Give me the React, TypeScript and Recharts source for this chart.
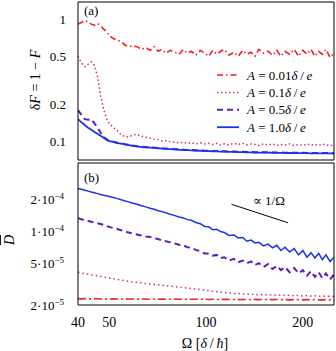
import React from 'react';
import { LineChart, Line, XAxis, YAxis, Legend, ReferenceLine } from 'recharts';

const FONT = '"Liberation Serif", "DejaVu Serif", serif';

// driving frequency grid, Ω in units of δ/ħ
const omega = [
  40, 41, 42, 43, 44, 45, 46, 47, 48, 49, 50, 51.5, 53, 54.5, 56, 57.5, 59, 61, 63, 65, 67, 69,
  71, 73, 75, 77.5, 80, 82.5, 85, 87.5, 90, 93, 96, 99, 102, 105, 108, 111, 114, 118, 122, 126,
  130, 134, 138, 142, 146, 151, 156, 161, 166, 171, 176, 182, 188, 194, 200, 206, 212, 218, 224,
  230, 236, 243, 250,
];

// (a) infidelity δF = 1 - F
const dfA001 = [
  0.92, 0.95, 0.985, 0.96, 0.92, 0.9, 0.93, 0.9, 0.84, 0.8, 0.74, 0.7, 0.68, 0.66, 0.62, 0.6, 0.61,
  0.6, 0.57, 0.59, 0.56, 0.6, 0.55, 0.57, 0.53, 0.56, 0.54, 0.52, 0.57, 0.53, 0.55, 0.51, 0.56, 0.53,
  0.5, 0.56, 0.52, 0.55, 0.57, 0.51, 0.54, 0.5, 0.56, 0.52, 0.54, 0.5, 0.57, 0.53, 0.55, 0.51, 0.56,
  0.5, 0.55, 0.52, 0.57, 0.5, 0.56, 0.52, 0.57, 0.5, 0.55, 0.52, 0.57, 0.49, 0.53,
];
const dfA01 = [
  0.5, 0.44, 0.41, 0.43, 0.45, 0.42, 0.34, 0.24, 0.185, 0.155, 0.14, 0.13, 0.122, 0.113, 0.109,
  0.108, 0.112, 0.114, 0.11, 0.108, 0.106, 0.104, 0.103, 0.1, 0.101, 0.099, 0.098, 0.097, 0.098,
  0.096, 0.097, 0.095, 0.097, 0.095, 0.096, 0.094, 0.096, 0.093, 0.095, 0.093, 0.096, 0.094, 0.096,
  0.093, 0.095, 0.094, 0.092, 0.095, 0.093, 0.095, 0.092, 0.094, 0.093, 0.095, 0.092, 0.094, 0.092,
  0.095, 0.093, 0.094, 0.092, 0.095, 0.093, 0.092, 0.093,
];
const dfA05 = [
  0.18, 0.165, 0.152, 0.15, 0.152, 0.14, 0.13, 0.118, 0.108, 0.104, 0.1005, 0.099, 0.097, 0.096,
  0.0945, 0.0935, 0.092, 0.091, 0.09, 0.0895, 0.089, 0.0885, 0.088, 0.0875, 0.087, 0.0865, 0.086,
  0.0855, 0.0852, 0.0848, 0.0845, 0.0842, 0.0839, 0.0836, 0.0833, 0.0831, 0.0829, 0.0827, 0.0825,
  0.0823, 0.0821, 0.0819, 0.0817, 0.0815, 0.0813, 0.0812, 0.0811, 0.081, 0.0809, 0.0808, 0.0807,
  0.0806, 0.0805, 0.0804, 0.0803, 0.0802, 0.0802, 0.0801, 0.08, 0.08, 0.0799, 0.0799, 0.0798,
  0.0798, 0.0797,
];
const dfA10 = [
  0.152, 0.143, 0.136, 0.129, 0.124, 0.119, 0.115, 0.111, 0.107, 0.103, 0.1, 0.0985, 0.0965,
  0.0955, 0.094, 0.093, 0.0915, 0.0905, 0.0895, 0.089, 0.0885, 0.088, 0.0875, 0.087, 0.0865, 0.086,
  0.0855, 0.085, 0.0847, 0.0843, 0.084, 0.0837, 0.0834, 0.0831, 0.0828, 0.0826, 0.0824, 0.0822,
  0.082, 0.0818, 0.0816, 0.0814, 0.0812, 0.081, 0.0808, 0.0807, 0.0806, 0.0805, 0.0804, 0.0803,
  0.0802, 0.0801, 0.08, 0.0799, 0.0798, 0.0797, 0.0797, 0.0796, 0.0795, 0.0795, 0.0794, 0.0794,
  0.0793, 0.0793, 0.0792,
];

// (b) mean deviation D̄
const dA001 = [
  2.3e-5, 2.29e-5, 2.3e-5, 2.29e-5, 2.29e-5, 2.3e-5, 2.29e-5, 2.28e-5, 2.29e-5, 2.29e-5, 2.28e-5,
  2.29e-5, 2.28e-5, 2.28e-5, 2.29e-5, 2.28e-5, 2.28e-5, 2.27e-5, 2.28e-5, 2.28e-5, 2.27e-5,
  2.28e-5, 2.27e-5, 2.28e-5, 2.27e-5, 2.27e-5, 2.28e-5, 2.27e-5, 2.27e-5, 2.26e-5, 2.27e-5,
  2.27e-5, 2.26e-5, 2.27e-5, 2.26e-5, 2.27e-5, 2.26e-5, 2.26e-5, 2.27e-5, 2.26e-5, 2.26e-5,
  2.25e-5, 2.26e-5, 2.26e-5, 2.25e-5, 2.26e-5, 2.25e-5, 2.26e-5, 2.25e-5, 2.25e-5, 2.26e-5,
  2.25e-5, 2.25e-5, 2.24e-5, 2.25e-5, 2.25e-5, 2.24e-5, 2.25e-5, 2.24e-5, 2.25e-5, 2.24e-5,
  2.24e-5, 2.25e-5, 2.24e-5, 2.24e-5,
];
const dA01 = [
  4.1e-5, 4.05e-5, 3.98e-5, 3.92e-5, 3.88e-5, 3.83e-5, 3.78e-5, 3.74e-5, 3.7e-5, 3.65e-5, 3.62e-5,
  3.56e-5, 3.5e-5, 3.45e-5, 3.4e-5, 3.36e-5, 3.32e-5, 3.28e-5, 3.24e-5, 3.2e-5, 3.17e-5, 3.14e-5,
  3.11e-5, 3.08e-5, 3.05e-5, 3.02e-5, 2.99e-5, 2.96e-5, 2.93e-5, 2.9e-5, 2.87e-5, 2.84e-5, 2.8e-5,
  2.76e-5, 2.74e-5, 2.7e-5, 2.68e-5, 2.64e-5, 2.63e-5, 2.6e-5, 2.58e-5, 2.57e-5, 2.54e-5, 2.55e-5,
  2.52e-5, 2.53e-5, 2.5e-5, 2.52e-5, 2.49e-5, 2.5e-5, 2.47e-5, 2.49e-5, 2.46e-5, 2.48e-5, 2.45e-5,
  2.47e-5, 2.44e-5, 2.46e-5, 2.43e-5, 2.45e-5, 2.42e-5, 2.44e-5, 2.42e-5, 2.43e-5, 2.41e-5,
];
const dA05 = [
  1.34e-4, 1.31e-4, 1.28e-4, 1.26e-4, 1.24e-4, 1.22e-4, 1.2e-4, 1.18e-4, 1.16e-4, 1.13e-4, 1.11e-4,
  1.08e-4, 1.06e-4, 1.03e-4, 1.0e-4, 9.8e-5, 9.6e-5, 9.4e-5, 9.2e-5, 9.0e-5, 8.9e-5, 8.6e-5, 8.5e-5,
  8.2e-5, 8.1e-5, 7.9e-5, 7.7e-5, 7.5e-5, 7.4e-5, 7.1e-5, 7.0e-5, 6.7e-5, 6.5e-5, 6.2e-5, 6.2e-5,
  5.9e-5, 6.0e-5, 5.6e-5, 5.7e-5, 5.3e-5, 5.5e-5, 5.1e-5, 5.3e-5, 5.0e-5, 5.2e-5, 4.8e-5, 5.0e-5,
  4.6e-5, 4.9e-5, 4.4e-5, 4.7e-5, 4.3e-5, 4.6e-5, 4.1e-5, 4.5e-5, 4.0e-5, 4.3e-5, 3.8e-5, 4.2e-5,
  3.7e-5, 4.1e-5, 3.6e-5, 4.0e-5, 3.5e-5, 3.9e-5,
];
const dA10 = [
  2.58e-4, 2.53e-4, 2.48e-4, 2.43e-4, 2.38e-4, 2.34e-4, 2.3e-4, 2.26e-4, 2.22e-4, 2.19e-4, 2.16e-4,
  2.11e-4, 2.06e-4, 2.01e-4, 1.96e-4, 1.92e-4, 1.87e-4, 1.82e-4, 1.76e-4, 1.72e-4, 1.67e-4,
  1.63e-4, 1.58e-4, 1.55e-4, 1.51e-4, 1.46e-4, 1.42e-4, 1.38e-4, 1.35e-4, 1.3e-4, 1.28e-4, 1.22e-4,
  1.19e-4, 1.12e-4, 1.11e-4, 1.04e-4, 1.05e-4, 1.0e-4, 9.8e-5, 9.2e-5, 9.3e-5, 8.7e-5, 8.8e-5,
  8.1e-5, 8.3e-5, 7.8e-5, 7.9e-5, 7.3e-5, 7.6e-5, 7.0e-5, 7.4e-5, 6.6e-5, 7.1e-5, 6.4e-5, 6.9e-5,
  6.0e-5, 6.6e-5, 5.7e-5, 6.3e-5, 5.6e-5, 6.2e-5, 5.4e-5, 6.0e-5, 5.2e-5, 5.7e-5,
];

// ∝ 1/Ω guide segment (Ω, D̄)
const slopeGuide = [
  { x: 120, y: 1.82e-4 },
  { x: 180, y: 1.213e-4 },
];

const xLabelTicks = [40, 50, 100, 200];
const xMajorTicks = [100, 200];
const xAllTicks = [50, 60, 70, 80, 90, 100, 200];
const yTicksA = [0.1, 0.2, 0.5, 1];
const yMajorA = [0.1, 1];
const yAllA = [0.08, 0.09, 0.1, 0.2, 0.3, 0.4, 0.5, 0.6, 0.7, 0.8, 0.9, 1];
const yTicksB = [2e-5, 5e-5, 1e-4, 2e-4];
const yMajorB = [1e-4];
const yAllB = [3e-5, 4e-5, 5e-5, 6e-5, 7e-5, 8e-5, 9e-5, 1e-4, 2e-4, 3e-4, 4e-4];

const X_DOMAIN = [40, 250];
const Y_DOMAIN_A = [0.07, 1.4];
const Y_DOMAIN_B = [2e-5, 4.5e-4];

const series = [
  { key: 'a001', amp: '0.01', color: '#f2201e', dashA: '6 3 1.5 3', dashB: '8 3 2 3', width: 1.6 },
  { key: 'a01', amp: '0.1', color: '#d0307c', dashA: '1.5 2.5', dashB: '1.5 3', width: 1.5 },
  { key: 'a05', amp: '0.5', color: '#5a1fc2', dashA: '6 4', dashB: '6 4', width: 2 },
  { key: 'a10', amp: '1.0', color: '#1b33f0', dashA: undefined, dashB: undefined, width: 1.8 },
];

const tableA = omega.map((w, i) => ({ omega: w, a001: dfA001[i], a01: dfA01[i], a05: dfA05[i], a10: dfA10[i] }));
const tableB = omega.map((w, i) => ({ omega: w, a001: dA001[i], a01: dA01[i], a05: dA05[i], a10: dA10[i] }));

const tickText = { fill: '#000', fontSize: 13, fontFamily: FONT };

// inward ticks on all four sides; mirrored axes take no room in the layout
const frameAxes = (yDomain: number[], yMajor: number[], yAll: number[]) => {
  const xCommon = { type: 'number' as const, dataKey: 'omega', scale: 'log' as const, domain: X_DOMAIN, allowDataOverflow: true, mirror: true, height: 1, tick: false, stroke: '#000' };
  const yCommon = { type: 'number' as const, scale: 'log' as const, domain: yDomain, allowDataOverflow: true, mirror: true, width: 1, tick: false, stroke: '#000' };
  return [
    <XAxis key="tAll" xAxisId="tAll" orientation="top" {...xCommon} ticks={xAllTicks} tickSize={3} axisLine={{ stroke: '#000' }} />,
    <XAxis key="tMaj" xAxisId="tMaj" orientation="top" {...xCommon} ticks={xMajorTicks} tickSize={4} axisLine={false} />,
    <XAxis key="bAll" xAxisId="bAll" orientation="bottom" {...xCommon} ticks={xAllTicks} tickSize={3} axisLine={false} />,
    <XAxis key="bMaj" xAxisId="bMaj" orientation="bottom" {...xCommon} ticks={xMajorTicks} tickSize={4} axisLine={false} />,
    <YAxis key="lAll" yAxisId="lAll" orientation="left" {...yCommon} ticks={yAll} tickSize={3} axisLine={false} />,
    <YAxis key="lMaj" yAxisId="lMaj" orientation="left" {...yCommon} ticks={yMajor} tickSize={4} axisLine={false} />,
    <YAxis key="rAll" yAxisId="rAll" orientation="right" {...yCommon} ticks={yAll} tickSize={3} axisLine={{ stroke: '#000' }} />,
    <YAxis key="rMaj" yAxisId="rMaj" orientation="right" {...yCommon} ticks={yMajor} tickSize={4} axisLine={false} />,
  ];
};

const PowTick = (props: any) => {
  const { x, y, payload } = props;
  const v = payload.value;
  const e = Math.floor(Math.log10(v) + 1e-9);
  const m = Math.round(v / Math.pow(10, e));
  return (
    <text x={x - 2} y={y + 4.5} textAnchor="end" fontFamily={FONT} fontSize={13} fill="#000">
      {m}·10<tspan dy={-5} fontSize={9}>{`−${-e}`}</tspan>
    </text>
  );
};

const renderLegend = (props: any) => {
  const payload = props.payload || [];
  return (
    <svg width={126} height={74} style={{ display: 'block' }}>
      {payload.map((entry: any, i: number) => {
        const s = series.find((d) => d.key === entry.dataKey) || series[i];
        const cy = 11 + i * 17.4;
        return (
          <g key={s.key}>
            <line x1={7} x2={29} y1={cy} y2={cy} stroke={s.color} strokeWidth={s.width} strokeDasharray={s.dashA} />
            <text x={37} y={cy + 4.5} fontFamily={FONT} fontSize={13} fill="#000">
              <tspan fontStyle="italic">A</tspan> = {s.amp}
              <tspan fontStyle="italic">δ</tspan>{'\u2009/\u2009'}
              <tspan fontStyle="italic">e</tspan>
            </text>
          </g>
        );
      })}
    </svg>
  );
};

const App = () => {
  return (
    <div style={{ position: 'absolute', left: 0, top: 0, width: 336, height: 351, background: '#fff' }}>
      <div style={{ position: 'absolute', left: 0, top: 0 }}>
        <LineChart width={336} height={163} data={tableA} margin={{ top: 2, right: 2, bottom: 2, left: 0 }}>
          <XAxis xAxisId="x" type="number" dataKey="omega" scale="log" domain={X_DOMAIN} allowDataOverflow
            ticks={xLabelTicks} height={1} tick={false} tickLine={false} stroke="#000" />
          <YAxis yAxisId="y" type="number" scale="log" domain={Y_DOMAIN_A} allowDataOverflow ticks={yTicksA}
            width={78} tickLine={false} tickSize={0} tickMargin={12} tick={tickText} stroke="#000"
            tickFormatter={(v: number) => String(v)} />
          {frameAxes(Y_DOMAIN_A, yMajorA, yAllA)}
          {series.map((s) => (
            <Line key={s.key} xAxisId="x" yAxisId="y" type="linear" dataKey={s.key} name={s.key}
              stroke={s.color} strokeWidth={s.width} strokeDasharray={s.dashA} dot={false}
              isAnimationActive={false} />
          ))}
          <Legend layout="vertical" align="center" verticalAlign="middle"
            wrapperStyle={{ left: 210, top: 64, width: 126 }} content={renderLegend} />
        </LineChart>
      </div>
      <div style={{ position: 'absolute', left: 0, top: 160 }}>
        <LineChart width={336} height={191} data={tableB} margin={{ top: 3, right: 2, bottom: 0, left: 0 }}>
          <XAxis xAxisId="x" type="number" dataKey="omega" scale="log" domain={X_DOMAIN} allowDataOverflow
            ticks={xLabelTicks} height={46} tickLine={false} tickSize={0} tickMargin={12}
            tick={{ ...tickText, fontSize: 14 }} stroke="#000" />
          <YAxis yAxisId="y" type="number" scale="log" domain={Y_DOMAIN_B} allowDataOverflow ticks={yTicksB}
            width={78} tickLine={false} tickSize={0} tickMargin={12} tick={<PowTick />} stroke="#000" />
          {frameAxes(Y_DOMAIN_B, yMajorB, yAllB)}
          {series.map((s) => (
            <Line key={s.key} xAxisId="x" yAxisId="y" type="linear" dataKey={s.key} name={s.key}
              stroke={s.color} strokeWidth={s.key === 'a10' ? 1.5 : s.width} strokeDasharray={s.dashB}
              dot={false} isAnimationActive={false} />
          ))}
          <ReferenceLine xAxisId="x" yAxisId="y" segment={slopeGuide} stroke="#000" strokeWidth={1} ifOverflow="visible" />
        </LineChart>
      </div>
      <svg width={336} height={351} style={{ position: 'absolute', left: 0, top: 0, pointerEvents: 'none' }}
        fontFamily={FONT} fill="#000">
        <text x={84} y={14.5} fontSize={13}>(a)</text>
        <text x={84} y={181.5} fontSize={13}>(b)</text>
        <text x={35} y={80} fontSize={14} textAnchor="middle" dominantBaseline="central" transform="rotate(-90 35 80)">
          δ<tspan fontStyle="italic">F</tspan> = 1 − <tspan fontStyle="italic">F</tspan>
        </text>
        <text x={9} y={240} fontSize={14} textAnchor="middle" dominantBaseline="central" transform="rotate(-90 9 240)"
          fontStyle="italic" style={{ textDecoration: 'overline' }}>D</text>
        <text x={205} y={347.5} fontSize={14} textAnchor="middle">
          Ω [<tspan fontStyle="italic">δ</tspan>{'\u2009/\u2009'}<tspan fontStyle="italic">ħ</tspan>]
        </text>
        <text x={253} y={204.5} fontSize={13}>∝ 1/Ω</text>
      </svg>
    </div>
  );
};

export default App;
